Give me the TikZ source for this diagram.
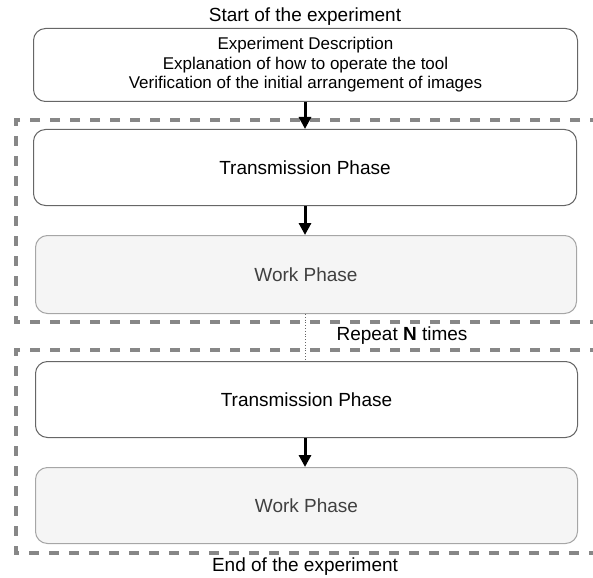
\documentclass[tikz,border=0pt]{standalone}
\usepackage{fontspec}
\setmainfont{Liberation Sans}
\usetikzlibrary{arrows.meta}
\begin{document}
\begin{tikzpicture}[x=1pt,y=-1pt,
  box/.style={draw=black!60,rounded corners=12pt,line width=1pt,fill=white},
  workbox/.style={draw=black!35,rounded corners=12pt,line width=1pt,fill=black!4,text=black!75},
  frame/.style={draw=black!47,line width=3.5pt,dash pattern=on 10pt off 10pt},
  arr/.style={-{Triangle[length=12pt,width=12pt]},line width=3pt,black},
  lbl/.style={font=\fontsize{19}{23}\selectfont}]
\useasboundingbox (0,0) rectangle (593,577);
% frames
\draw[frame] (600,120) -- (16,120) -- (16,322) -- (600,322);
\draw[frame] (600,350) -- (16,350) -- (16,553) -- (600,553);
% boxes
\node[box,minimum width=544pt,minimum height=73pt,anchor=north west,align=center,font=\fontsize{17}{19.5}\selectfont] (desc) at (33,28) {Experiment Description\\Explanation of how to operate the tool\\Verification of the initial arrangement of images};
\node[box,lbl,minimum width=543pt,minimum height=76pt,anchor=north west] (t1) at (33,129) {Transmission Phase};
\node[workbox,lbl,minimum width=541pt,minimum height=78pt,anchor=north west] (w1) at (35,235) {Work Phase};
\node[box,lbl,minimum width=542pt,minimum height=76pt,anchor=north west] (t2) at (35,361) {Transmission Phase};
\node[workbox,lbl,minimum width=542pt,minimum height=76pt,anchor=north west] (w2) at (35,467) {Work Phase};
% labels
\node[lbl] (start) at (305,16.5) {Start of the experiment};
\node[lbl] (endl) at (305,567) {End of the experiment};
\node[lbl] (rep) at (402,336) {Repeat \textbf{N} times};
% connectors
\draw[arr] (desc.south -| 305,0) -- (t1.north -| 305,0);
\draw[arr] (t1.south -| 305,0) -- (w1.north -| 305,0);
\draw[arr] (t2.south -| 305,0) -- (w2.north -| 305,0);
\draw[black!60,line width=0.8pt,dotted] (w1.south -| 305,0) -- (t2.north -| 305,0);
\end{tikzpicture}
\end{document}
